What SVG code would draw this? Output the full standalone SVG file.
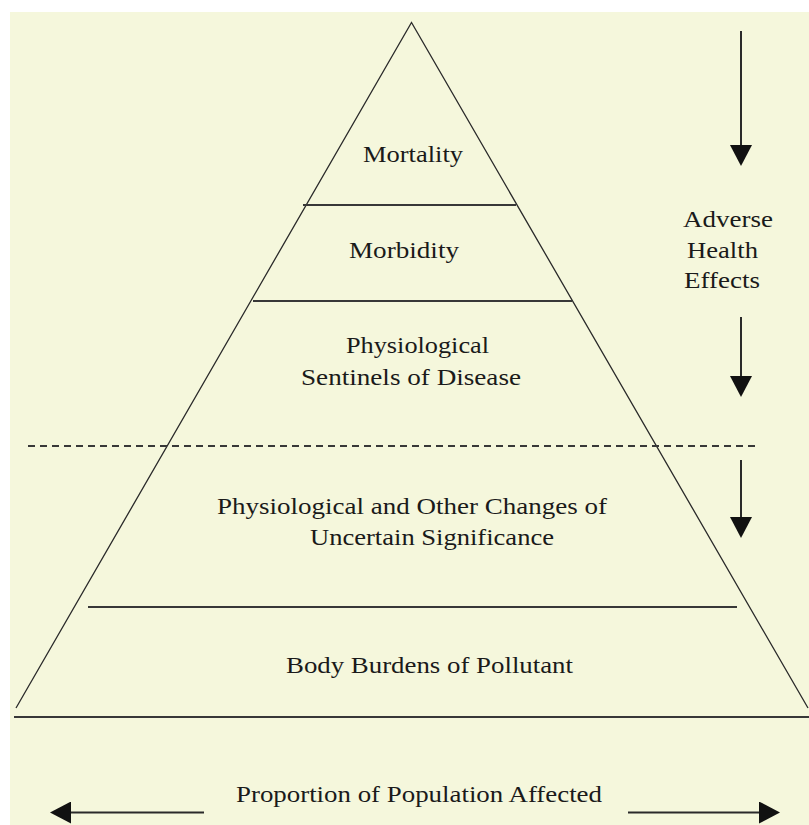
<svg xmlns="http://www.w3.org/2000/svg" width="809" height="825" viewBox="0 0 809 825">
<style>
.lbl{font-family:"Liberation Serif","Times New Roman",serif;font-size:24px;fill:#1a1a1a}
.edge{fill:none;stroke:#2a2a2a;stroke-width:1.3}
.hl{stroke:#383838;stroke-width:2.2;fill:none}
.dash{stroke:#383838;stroke-width:1.8;stroke-dasharray:7 5;fill:none}
.arr{stroke:#2a2a2a;stroke-width:2;fill:none;marker-end:url(#head)}
</style>
<defs>
<marker id="head" viewBox="0 0 21 22" refX="18" refY="11" markerWidth="21" markerHeight="22" orient="auto" markerUnits="userSpaceOnUse">
<path d="M0,0 L21,11 L0,22 Z" fill="#111"/>
</marker>
</defs>
<rect x="0" y="0" width="809" height="825" fill="#ffffff"/>
<rect x="10" y="12" width="799" height="813" fill="#F5F7DC"/>

<g id="pyramid">
<polyline class="edge" points="16,708 411.5,22.5 808,708"/>
<line class="hl" x1="14" y1="717" x2="809" y2="717"/>
</g>

<g id="tier-mortality">
<text class="lbl" x="363" y="162" textLength="100" lengthAdjust="spacingAndGlyphs">Mortality</text>
</g>
<g id="tier-morbidity">
<line class="hl" x1="303" y1="205" x2="516" y2="205"/>
<text class="lbl" x="349" y="258" textLength="110" lengthAdjust="spacingAndGlyphs">Morbidity</text>
</g>
<g id="tier-sentinels">
<line class="hl" x1="253" y1="301" x2="572" y2="301"/>
<text class="lbl" x="346" y="353" textLength="143" lengthAdjust="spacingAndGlyphs">Physiological</text>
<text class="lbl" x="301" y="385" textLength="220" lengthAdjust="spacingAndGlyphs">Sentinels of Disease</text>
</g>
<g id="tier-uncertain">
<line class="dash" x1="28" y1="446" x2="757" y2="446"/>
<text class="lbl" x="217" y="514" textLength="390" lengthAdjust="spacingAndGlyphs">Physiological and Other Changes of</text>
<text class="lbl" x="310" y="545" textLength="244" lengthAdjust="spacingAndGlyphs">Uncertain Significance</text>
</g>
<g id="tier-body-burdens">
<line class="hl" x1="88" y1="607" x2="737" y2="607"/>
<text class="lbl" x="286" y="673" textLength="287" lengthAdjust="spacingAndGlyphs">Body Burdens of Pollutant</text>
</g>

<g id="adverse-health-effects">
<text class="lbl" x="683" y="227" textLength="90" lengthAdjust="spacingAndGlyphs">Adverse</text>
<text class="lbl" x="687" y="258" textLength="71" lengthAdjust="spacingAndGlyphs">Health</text>
<text class="lbl" x="684" y="288" textLength="76" lengthAdjust="spacingAndGlyphs">Effects</text>
</g>

<g id="population-label">
<text class="lbl" x="236" y="802" textLength="366" lengthAdjust="spacingAndGlyphs">Proportion of Population Affected</text>
</g>

<g id="connectors">
<line class="arr" x1="741" y1="31" x2="741" y2="163"/>
<line class="arr" x1="741" y1="317" x2="741" y2="394"/>
<line class="arr" x1="741" y1="460" x2="741" y2="535"/>
<line class="arr" x1="204" y1="812.5" x2="53" y2="812.5"/>
<line class="arr" x1="628" y1="812.5" x2="777" y2="812.5"/>
</g>
</svg>
